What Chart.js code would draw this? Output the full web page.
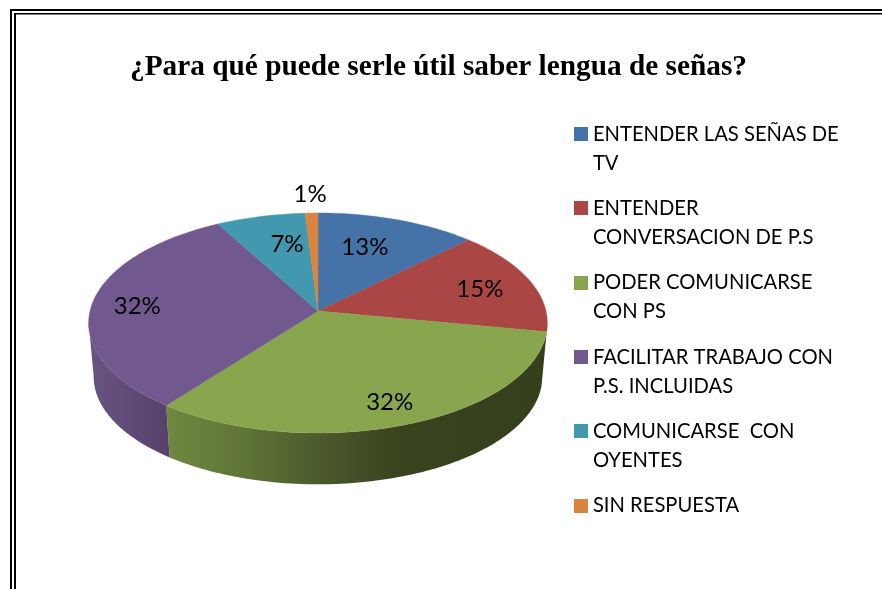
<!DOCTYPE html>
<html>
<head>
<meta charset="utf-8">
<style>html,body{margin:0;padding:0;background:#fff}canvas{display:block}</style>
<script src="https://cdn.jsdelivr.net/npm/chart.js@4"></script>
</head>
<body>
<canvas id="c" width="882" height="589"></canvas>
<script>
const chartTitle = '¿Para qué puede serle útil saber lengua de señas?';
const categories = [
  ['ENTENDER LAS SEÑAS DE', 'TV'],
  ['ENTENDER', 'CONVERSACION DE P.S'],
  ['PODER COMUNICARSE', 'CON PS'],
  ['FACILITAR TRABAJO CON', 'P.S. INCLUIDAS'],
  ['COMUNICARSE  CON', 'OYENTES'],
  ['SIN RESPUESTA']
];
const values = [12.6, 15.4, 32.4, 31.6, 7, 1];
const sliceColors = ['#4572A7', '#AA4643', '#89A54E', '#71588F', '#4198AF', '#DB843D'];
const labelRadius = [0.68, 0.76, 0.81, 0.80, 0.69, 1.24];
const labelTurn = [-3.8, 0, 0, 0, 4, 0];
const view = {cx: 318, cy: 311, w: 228, h: 108.7, k: 0.109, shrink: 0.978, drop: 54};
const sideFrontFrom = 100.5, sideFrontTo = 264;
const sideShades = [
  null,
  null,
  [[166, '#70883F'], [250, '#5E7337'], [320, '#4B5A2C'], [400, '#3A431F'], [548, '#363F1C']],
  [[90, '#685480'], [166, '#57426E']],
  null,
  null
];

function project(theta, r) {
  const X = r * Math.sin(theta), Y = -r * Math.cos(theta);
  const d = 1 - view.k * Y;
  return [view.cx + view.w * X / d, view.cy + view.h * Y / d];
}
function lower(p) {
  return [view.cx + (p[0] - view.cx) * view.shrink, view.cy + (p[1] - view.cy) * view.shrink + view.drop];
}
const rad = Math.PI / 180;

Chart.ArcElement.prototype.draw = function (ctx) {
  const i = this.$context ? this.$context.dataIndex : 0;
  const a0 = this.startAngle + Math.PI / 2, a1 = this.endAngle + Math.PI / 2;
  const color = this.options.backgroundColor;
  const shade = sideShades[i];
  const f0 = Math.max(a0, sideFrontFrom * rad), f1 = Math.min(a1, sideFrontTo * rad);
  if (shade && f1 > f0) {
    const g = ctx.createLinearGradient(shade[0][0], 0, shade[shade.length - 1][0], 0);
    const span = shade[shade.length - 1][0] - shade[0][0];
    shade.forEach(s => g.addColorStop((s[0] - shade[0][0]) / span, s[1]));
    const top = [];
    for (let n = 0; n <= 90; n++) top.push(project(f0 + (f1 - f0) * n / 90, 1));
    ctx.beginPath();
    top.forEach((p, n) => n ? ctx.lineTo(p[0], p[1]) : ctx.moveTo(p[0], p[1]));
    top.slice().reverse().forEach(p => { const q = lower(p); ctx.lineTo(q[0], q[1]); });
    ctx.closePath();
    ctx.fillStyle = g;
    ctx.fill();
  }
  ctx.beginPath();
  ctx.moveTo(view.cx, view.cy);
  const steps = Math.max(4, Math.ceil((a1 - a0) / rad));
  for (let n = 0; n <= steps; n++) {
    const p = project(a0 + (a1 - a0) * n / steps, 1);
    ctx.lineTo(p[0], p[1]);
  }
  ctx.closePath();
  ctx.fillStyle = color;
  ctx.fill();
  ctx.lineWidth = 0.4;
  ctx.strokeStyle = color;
  ctx.stroke();
};

const swatches = sliceColors.map(col => {
  const s = document.createElement('canvas');
  s.width = 14; s.height = 14;
  const x = s.getContext('2d');
  x.fillStyle = col; x.fillRect(0, 0, 14, 14);
  return s;
});

const frame = {
  id: 'frame',
  beforeDraw(chart) {
    const c = chart.ctx;
    c.save();
    c.fillStyle = '#fff';
    c.fillRect(0, 0, chart.width, chart.height);
    c.fillStyle = '#000';
    c.fillRect(10, 9, 2, chart.height);
    c.fillRect(14, 13, 2, chart.height);
    c.fillRect(10, 9, chart.width, 2);
    c.fillRect(14, 13, chart.width, 1.5);
    c.restore();
  }
};
const placeLegend = {
  id: 'placeLegend',
  afterLayout(chart) {
    const l = chart.legend;
    l.left = 579.8 - 16.3;
    l.top = 124 - 16.3;
    l.right = 882;
    l.bottom = 589;
  }
};
const sliceLabels = {
  id: 'sliceLabels',
  afterDatasetsDraw(chart) {
    const c = chart.ctx;
    const arcs = chart.getDatasetMeta(0).data;
    c.save();
    c.font = '24px Lato';
    c.fillStyle = '#000';
    c.textAlign = 'center';
    c.textBaseline = 'middle';
    arcs.forEach((arc, i) => {
      const mid = (arc.startAngle + arc.endAngle) / 2 + Math.PI / 2 + labelTurn[i] * rad;
      const p = project(mid, labelRadius[i]);
      c.fillText(Math.round(values[i]) + '%', p[0], p[1] + 2);
    });
    c.restore();
  }
};

new Chart(document.getElementById('c'), {
  type: 'pie',
  data: {
    labels: categories,
    datasets: [{data: values, backgroundColor: sliceColors, borderWidth: 0}]
  },
  plugins: [frame, placeLegend, sliceLabels],
  options: {
    responsive: false,
    animation: false,
    layout: {padding: {right: 5, top: 40}},
    plugins: {
      tooltip: {enabled: false},
      title: {
        display: true,
        text: chartTitle,
        color: '#000',
        font: {family: '"Liberation Serif"', size: 29.3, weight: 'bold'},
        padding: {top: 10, bottom: 10}
      },
      legend: {
        display: true,
        position: 'right',
        align: 'start',
        labels: {
          color: '#000',
          font: {family: 'Lato', size: 20.2, lineHeight: 29 / 20.2},
          padding: 16.3,
          usePointStyle: true,
          pointStyleWidth: 3,
          generateLabels(chart) {
            return categories.map((t, i) => ({
              text: t, fontColor: '#000', pointStyle: swatches[i], index: i, hidden: false, lineWidth: 0
            }));
          }
        }
      }
    }
  }
});
</script>
</body>
</html>
